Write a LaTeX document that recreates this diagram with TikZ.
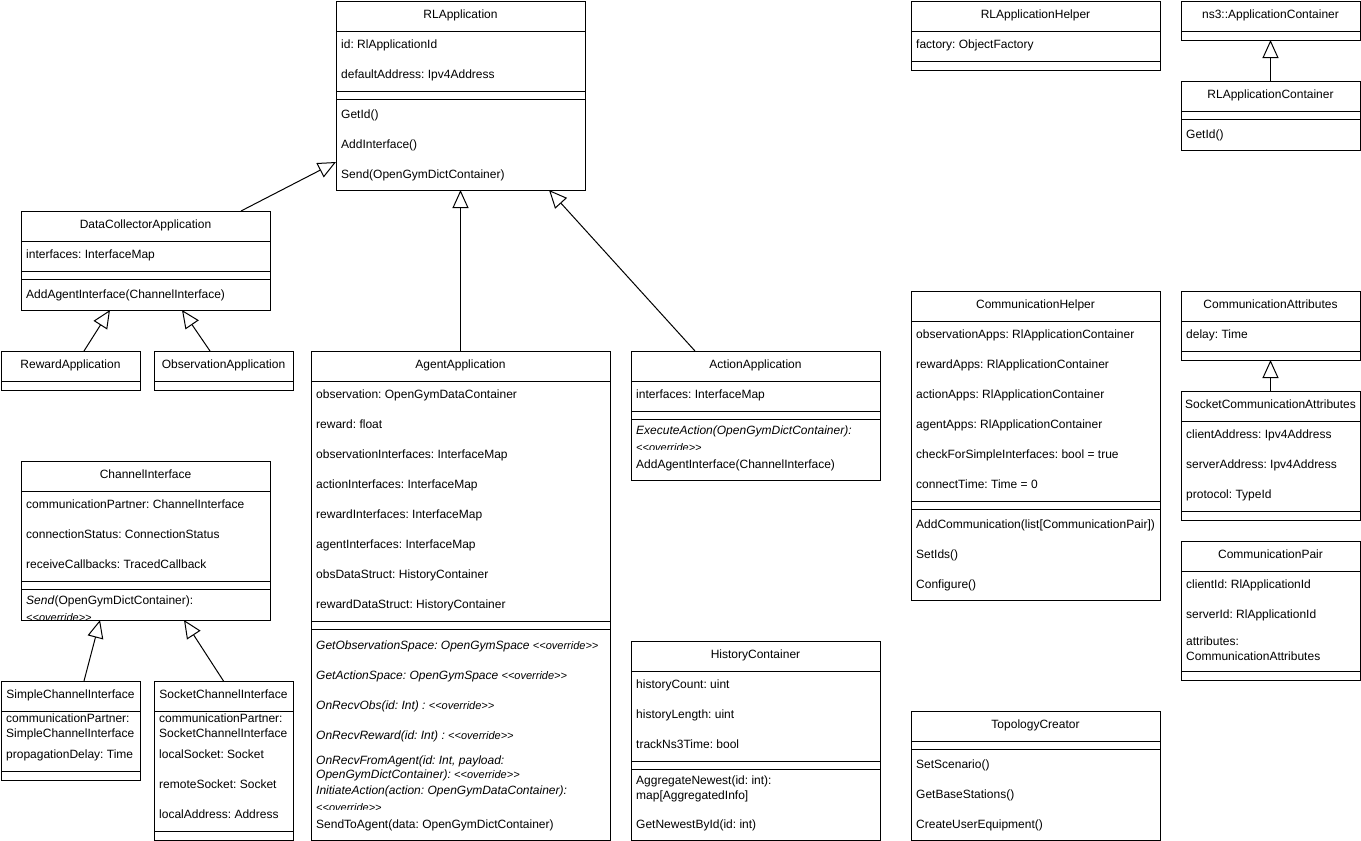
\documentclass[tikz,border=0pt]{standalone}
\usepackage{fontspec}
\setmainfont{Liberation Sans}
\usetikzlibrary{arrows.meta}
\frenchspacing
\newcounter{tn}
\newcommand\ovr{{\fontsize{11}{13}\selectfont\itshape \textless\kern0pt\textless override\textgreater\kern0pt\textgreater}}
\newcommand\umlclass[6]{\node[umlbox, minimum width={#4pt-#2pt}, minimum height={#5pt-#3pt}] (#1) at ({(#2+#4)/2},{(#3+#5)/2}) {};\node[ttl] (#1-title) at ({(#2+#4)/2},{#3+17}) {#6};}
\newcommand\sep[3]{\draw[sepline] (#1,#3) -- (#2,#3);}
\newcommand\tx[3]{\stepcounter{tn}\node[txt] (t\arabic{tn}) at ({#1+5},#2) {#3};}
\begin{document}
\begin{tikzpicture}[x=1pt, y=-1pt,
  every node/.style={font=\fontsize{12}{14.4}\selectfont},
  umlbox/.style={draw, line width=1pt, inner sep=0pt, outer sep=0pt, fill=white},
  ttl/.style={anchor=base, inner sep=0pt},
  txt/.style={anchor=base west, inner sep=0pt},
  sepline/.style={line width=1pt},
  inh/.style={line width=1pt, -{Triangle[length=18pt, width=16pt, fill=white]}}]
\fill[white] (0,0) rectangle (1361,841);
\useasboundingbox (0,0) rectangle (1361,841);

% RLApplication
\umlclass{rla}{336}{1}{585}{190}{RLApplication}
\sep{336}{585}{31}\sep{336}{585}{91}\sep{336}{585}{99}
\tx{336}{48}{id: RlApplicationId}
\tx{336}{78}{defaultAddress: Ipv4Address}
\tx{336}{118}{GetId()}
\tx{336}{148}{AddInterface()}
\tx{336}{178}{Send(OpenGymDictContainer)}

% RLApplicationHelper
\umlclass{rlh}{911}{1}{1160}{70}{RLApplicationHelper}
\sep{911}{1160}{31}\sep{911}{1160}{61}
\tx{911}{48}{factory: ObjectFactory}

% ns3::ApplicationContainer
\umlclass{ns3}{1181}{1}{1360}{40}{ns3::ApplicationContainer}
\sep{1181}{1360}{31}

% RLApplicationContainer
\umlclass{rlc}{1181}{81}{1360}{150}{RLApplicationContainer}
\sep{1181}{1360}{111}\sep{1181}{1360}{119}
\tx{1181}{138}{GetId()}

% DataCollectorApplication
\umlclass{dca}{21}{211}{270}{310}{DataCollectorApplication}
\sep{21}{270}{241}\sep{21}{270}{271}\sep{21}{270}{279}
\tx{21}{258}{interfaces: InterfaceMap}
\tx{21}{298}{AddAgentInterface(ChannelInterface)}

% RewardApplication / ObservationApplication
\umlclass{rwa}{1}{351}{140}{390}{RewardApplication}
\sep{1}{140}{381}
\umlclass{oba}{154}{351}{293}{390}{ObservationApplication}
\sep{154}{293}{381}

% AgentApplication
\umlclass{aga}{311}{351}{610}{840}{AgentApplication}
\sep{311}{610}{381}\sep{311}{610}{621}\sep{311}{610}{629}
\tx{311}{398}{observation: OpenGymDataContainer}
\tx{311}{428}{reward: float}
\tx{311}{458}{observationInterfaces: InterfaceMap}
\tx{311}{488}{actionInterfaces: InterfaceMap}
\tx{311}{518}{rewardInterfaces: InterfaceMap}
\tx{311}{548}{agentInterfaces: InterfaceMap}
\tx{311}{578}{obsDataStruct: HistoryContainer}
\tx{311}{608}{rewardDataStruct: HistoryContainer}
\tx{311}{649}{\textit{GetObservationSpace: OpenGymSpace} \ovr}
\tx{311}{679}{\textit{GetActionSpace: OpenGymSpace} \ovr}
\tx{311}{709}{\textit{OnRecvObs(id: Int) :} \ovr}
\tx{311}{739}{\textit{OnRecvReward(id: Int) :} \ovr}
\tx{311}{764}{\textit{OnRecvFromAgent(id: Int, payload:}}
\tx{311}{778}{\textit{OpenGymDictContainer):} \ovr}
\begin{scope}
\clip (312,779) rectangle (609,809);
\tx{311}{794}{\textit{InitiateAction(action: OpenGymDataContainer):}}
\tx{311}{811}{\ovr}
\end{scope}
\tx{311}{828}{SendToAgent(data: OpenGymDictContainer)}

% ActionApplication
\umlclass{aca}{631}{351}{880}{480}{ActionApplication}
\sep{631}{880}{381}\sep{631}{880}{411}\sep{631}{880}{419}
\tx{631}{398}{interfaces: InterfaceMap}
\begin{scope}
\clip (632,419) rectangle (879,449);
\tx{631}{434}{\textit{ExecuteAction(OpenGymDictContainer):}}
\tx{631}{451}{\ovr}
\end{scope}
\tx{631}{468}{AddAgentInterface(ChannelInterface)}

% ChannelInterface
\umlclass{chi}{21}{461}{270}{620}{ChannelInterface}
\sep{21}{270}{491}\sep{21}{270}{581}\sep{21}{270}{589}
\tx{21}{508}{communicationPartner: ChannelInterface}
\tx{21}{538}{connectionStatus: ConnectionStatus}
\tx{21}{568}{receiveCallbacks: TracedCallback}
\begin{scope}
\clip (22,589) rectangle (269,619);
\tx{21}{604}{\textit{Send}(OpenGymDictContainer):}
\tx{21}{621}{\ovr}
\end{scope}

% SimpleChannelInterface
\umlclass{sci}{1}{681}{140}{780}{SimpleChannelInterface}
\sep{1}{140}{711}\sep{1}{140}{771}
\tx{1}{722}{communicationPartner:}
\tx{1}{737}{SimpleChannelInterface}
\tx{1}{758}{propagationDelay: Time}

% SocketChannelInterface
\umlclass{soci}{154}{681}{293}{840}{SocketChannelInterface}
\sep{154}{293}{711}\sep{154}{293}{831}
\tx{154}{722}{communicationPartner:}
\tx{154}{737}{SocketChannelInterface}
\tx{154}{758}{localSocket: Socket}
\tx{154}{788}{remoteSocket: Socket}
\tx{154}{818}{localAddress: Address}

% HistoryContainer
\umlclass{hc}{631}{641}{880}{840}{HistoryContainer}
\sep{631}{880}{671}\sep{631}{880}{761}\sep{631}{880}{769}
\tx{631}{688}{historyCount: uint}
\tx{631}{718}{historyLength: uint}
\tx{631}{748}{trackNs3Time: bool}
\tx{631}{784}{AggregateNewest(id: int):}
\tx{631}{799}{map[AggregatedInfo]}
\tx{631}{828}{GetNewestById(id: int)}

% CommunicationHelper
\umlclass{ch}{911}{291}{1160}{600}{CommunicationHelper}
\sep{911}{1160}{321}\sep{911}{1160}{501}\sep{911}{1160}{509}
\tx{911}{338}{observationApps: RlApplicationContainer}
\tx{911}{368}{rewardApps: RlApplicationContainer}
\tx{911}{398}{actionApps: RlApplicationContainer}
\tx{911}{428}{agentApps: RlApplicationContainer}
\tx{911}{458}{checkForSimpleInterfaces: bool = true}
\tx{911}{488}{connectTime: Time = 0}
\tx{911}{528}{AddCommunication(list[CommunicationPair])}
\tx{911}{558}{SetIds()}
\tx{911}{588}{Configure()}

% CommunicationAttributes
\umlclass{ca}{1181}{291}{1360}{360}{CommunicationAttributes}
\sep{1181}{1360}{321}\sep{1181}{1360}{351}
\tx{1181}{338}{delay: Time}

% SocketCommunicationAttributes
\umlclass{sca}{1181}{391}{1360}{520}{SocketCommunicationAttributes}
\sep{1181}{1360}{421}\sep{1181}{1360}{511}
\tx{1181}{438}{clientAddress: Ipv4Address}
\tx{1181}{468}{serverAddress: Ipv4Address}
\tx{1181}{498}{protocol: TypeId}

% CommunicationPair
\umlclass{cp}{1181}{541}{1360}{680}{CommunicationPair}
\sep{1181}{1360}{571}\sep{1181}{1360}{671}
\tx{1181}{588}{clientId: RlApplicationId}
\tx{1181}{618}{serverId: RlApplicationId}
\tx{1181}{645}{attributes:}
\tx{1181}{660}{CommunicationAttributes}

% TopologyCreator
\umlclass{tc}{911}{711}{1160}{840}{TopologyCreator}
\sep{911}{1160}{741}\sep{911}{1160}{749}
\tx{911}{768}{SetScenario()}
\tx{911}{798}{GetBaseStations()}
\tx{911}{828}{CreateUserEquipment()}

% inheritance connectors
\draw[inh] ([xshift=95.5pt]dca.north) -- ([yshift=-66.5pt]rla.west);
\draw[inh] ([xshift=13.5pt]rwa.north) -- ([xshift=-35.5pt]dca.south);
\draw[inh] ([xshift=-13.5pt]oba.north) -- ([xshift=36.5pt]dca.south);
\draw[inh] (aga.north) -- (rla.south);
\draw[inh] ([xshift=-60.5pt]aca.north) -- ([xshift=88.5pt]rla.south);
\draw[inh] ([xshift=13.5pt]sci.north) -- ([xshift=-45.5pt]chi.south);
\draw[inh] (soci.north) -- ([xshift=38.5pt]chi.south);
\draw[inh] (rlc.north) -- (ns3.south);
\draw[inh] (sca.north) -- (ca.south);
\end{tikzpicture}
\end{document}
